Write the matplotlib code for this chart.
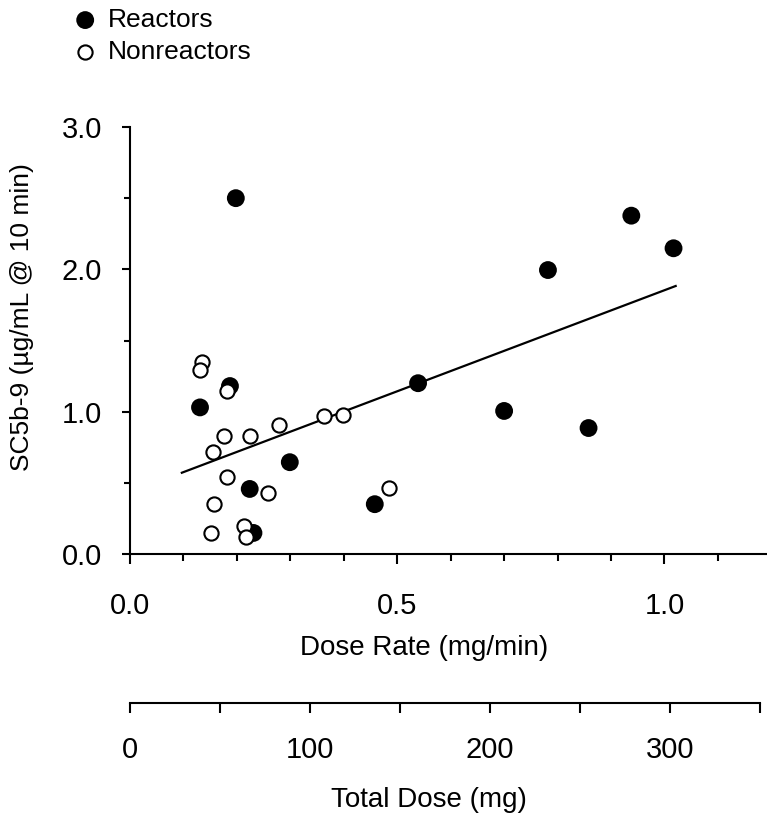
import numpy as np
import matplotlib
matplotlib.use('Agg')
import matplotlib.pyplot as plt
from matplotlib.ticker import MultipleLocator, FixedLocator, FormatStrFormatter

plt.rcParams['font.family'] = ['Liberation Sans', 'DejaVu Sans']

# dose rate (mg/min) vs SC5b-9 (ug/mL @ 10 min)
reactor_rate = [0.198, 0.131, 0.187, 0.299, 0.224, 0.231, 0.458, 0.539, 0.700, 0.782, 0.858, 0.938, 1.017]
reactor_sc5b9 = [2.50, 1.03, 1.18, 0.645, 0.457, 0.148, 0.35, 1.20, 1.005, 1.995, 0.885, 2.377, 2.148]

nonreactor_rate = [0.135, 0.131, 0.182, 0.176, 0.224, 0.155, 0.278, 0.363, 0.398, 0.182, 0.259,
                   0.158, 0.151, 0.213, 0.217, 0.484]
nonreactor_sc5b9 = [1.351, 1.29, 1.148, 0.827, 0.827, 0.719, 0.906, 0.972, 0.979, 0.541, 0.431,
                    0.349, 0.145, 0.199, 0.122, 0.466]

# regression line end points
fit_rate = [0.097, 1.021]
fit_sc5b9 = [0.571, 1.883]

W, H = 767, 815
fig = plt.figure(figsize=(W / 100, H / 100), dpi=100)

ax = fig.add_axes([130 / W, 1 - 554 / H, 636 / W, (554 - 127) / H])
ax.set_xlim(0, 1.19)
ax.set_ylim(0, 3.0)

r = ax.scatter(reactor_rate, reactor_sc5b9, s=165, c='black', edgecolors='none', zorder=3, label='Reactors')
ax.plot(fit_rate, fit_sc5b9, color='black', lw=1.6, zorder=4)
n = ax.scatter(nonreactor_rate, nonreactor_sc5b9, s=105, facecolors='white', edgecolors='black',
               linewidths=1.5, zorder=5, label='Nonreactors')

for s in ['top', 'right']:
    ax.spines[s].set_visible(False)
for s in ['left', 'bottom']:
    ax.spines[s].set_linewidth(1.5)

ax.xaxis.set_major_locator(FixedLocator([0, 0.5, 1.0]))
ax.xaxis.set_minor_locator(FixedLocator(np.arange(0.1, 1.2, 0.1)))
ax.xaxis.set_major_formatter(FormatStrFormatter('%.1f'))
ax.yaxis.set_major_locator(MultipleLocator(1.0))
ax.yaxis.set_minor_locator(MultipleLocator(0.5))
ax.yaxis.set_major_formatter(FormatStrFormatter('%.1f'))

ax.tick_params(axis='x', which='major', length=7, width=1.5, pad=20, labelsize=21)
ax.tick_params(axis='x', which='minor', length=5, width=1.5)
ax.tick_params(axis='y', which='major', length=6, width=1.5, pad=14, labelsize=21)
ax.tick_params(axis='y', which='minor', length=4, width=1.5)

ax.set_xlabel('Dose Rate (mg/min)', fontsize=20)
ax.xaxis.set_label_coords(424 / W, 1 - 648 / H, transform=fig.transFigure)
ax.xaxis.label.set_verticalalignment('center')
ax.set_ylabel('SC5b-9 (\u00b5g/mL @ 10 min)', fontsize=19)
ax.yaxis.set_label_coords(22 / W, 1 - 317 / H, transform=fig.transFigure)
ax.yaxis.label.set_verticalalignment('center')

# second scale: total dose
ax2 = fig.add_axes([130 / W, 1 - 703 / H, 630 / W, 0.0001])
ax2.set_xlim(0, 350)
ax2.set_yticks([])
for s in ['top', 'right', 'left']:
    ax2.spines[s].set_visible(False)
ax2.spines['bottom'].set_linewidth(1.5)
ax2.xaxis.set_major_locator(FixedLocator([0, 100, 200, 300]))
ax2.xaxis.set_minor_locator(FixedLocator([50, 150, 250, 350]))
ax2.tick_params(axis='x', which='major', length=7, width=1.5, pad=17, labelsize=21)
ax2.tick_params(axis='x', which='minor', length=7, width=1.5)
ax2.set_xlabel('Total Dose (mg)', fontsize=20)
ax2.xaxis.set_label_coords(429 / W, 1 - 800 / H, transform=fig.transFigure)
ax2.xaxis.label.set_verticalalignment('center')

fig.legend(handles=[r, n], labels=['Reactors', 'Nonreactors'], loc='upper left',
           bbox_to_anchor=(72 / W, 1 - 8 / H), frameon=False, fontsize=19,
           borderpad=0, borderaxespad=0, handlelength=1.0, handletextpad=0.35,
           labelspacing=0.3, scatterpoints=1, markerscale=1.0)

fig.savefig('out.png', dpi=100)
